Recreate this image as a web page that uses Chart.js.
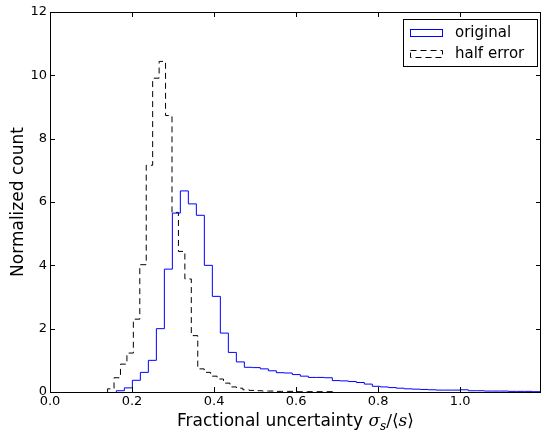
<!DOCTYPE html>
<html>
<head>
<meta charset="utf-8">
<script src="https://cdn.jsdelivr.net/npm/chart.js@4.4.0/dist/chart.umd.min.js"></script>
<style>
html, body { margin: 0; padding: 0; background: #fff; }
#wrap { width: 542px; height: 435px; }
</style>
</head>
<body>
<div id="wrap"><canvas id="myChart"></canvas></div>
<script>
// histogram bins: first left edge, bin width, normalized counts per bin
var origStart = 0.1618, origWidth = 0.0195;
var origCounts = [0.04, 0.13, 0.37, 0.62, 1.0, 2.0, 3.88, 5.65, 6.35, 5.94,
                  5.58, 4.0, 3.02, 1.86, 1.25, 0.95, 0.78, 0.77, 0.73, 0.67,
                  0.61, 0.60, 0.55, 0.50, 0.46, 0.46, 0.45, 0.36, 0.35, 0.33,
                  0.30, 0.25, 0.18, 0.16, 0.14, 0.12, 0.10, 0.09, 0.08, 0.07,
                  0.06, 0.06, 0.06, 0.07, 0.04, 0.04, 0.03, 0.03, 0.03, 0.02,
                  0.02, 0.02, 0.01, 0.01];
var halfStart = 0.1404, halfWidth = 0.0157;
var halfCounts = [0.10, 0.45, 0.88, 1.23, 2.3, 4.02, 7.16, 9.91, 10.44, 8.73,
                  5.67, 4.44, 3.57, 1.78, 0.73, 0.62, 0.50, 0.41, 0.28, 0.16,
                  0.12, 0.07, 0.05, 0.04, 0.03, 0.03, 0.02, 0.02, 0.02, 0.01,
                  0.01, 0.01, 0.01, 0.01, 0.01];
var seriesNames = ["original", "half error"];
var xTicks = [0.0, 0.2, 0.4, 0.6, 0.8, 1.0];
var yTicks = [0, 2, 4, 6, 8, 10, 12];

// outline points of a step histogram (left edge of each bin)
function stepPoints(start, width, counts) {
    var pts = [{x: start, y: 0}];
    for (var i = 0; i < counts.length; i++) {
        pts.push({x: start + i * width, y: counts[i]});
    }
    pts.push({x: start + counts.length * width, y: 0});
    return pts;
}

// frame + inward ticks on all four sides (matplotlib look)
var frameTicks = {
    id: 'frameTicks',
    afterDraw: function(chart) {
        var ctx = chart.ctx, a = chart.chartArea;
        var xs = chart.scales.x, ys = chart.scales.y;
        ctx.save();
        ctx.strokeStyle = '#000';
        ctx.lineWidth = 1;
        ctx.beginPath();
        xs.ticks.forEach(function(t) {
            var px = Math.round(xs.getPixelForValue(t.value)) + 0.5;
            ctx.moveTo(px, a.bottom); ctx.lineTo(px, a.bottom - 5);
            ctx.moveTo(px, a.top); ctx.lineTo(px, a.top + 5);
        });
        ys.ticks.forEach(function(t) {
            var py = Math.round(ys.getPixelForValue(t.value)) + 0.5;
            ctx.moveTo(a.left, py); ctx.lineTo(a.left + 5, py);
            ctx.moveTo(a.right, py); ctx.lineTo(a.right - 5, py);
        });
        ctx.stroke();
        ctx.strokeRect(Math.round(a.left) + 0.5, Math.round(a.top) + 0.5,
                       Math.round(a.right - a.left) - 1, Math.round(a.bottom - a.top));
        ctx.restore();
    }
};

// legend box in the upper right corner
var boxLegend = {
    id: 'boxLegend',
    afterDraw: function(chart) {
        var ctx = chart.ctx;
        ctx.save();
        ctx.strokeStyle = '#000';
        ctx.lineWidth = 1;
        ctx.strokeRect(403.5, 19.5, 134, 47);
        ctx.font = '15px "DejaVu Sans"';
        ctx.fillStyle = '#000';
        ctx.textBaseline = 'middle';
        chart.data.datasets.forEach(function(ds, i) {
            var cy = 33 + i * 21;
            ctx.strokeStyle = ds.borderColor;
            ctx.setLineDash(ds.borderDash || []);
            ctx.strokeRect(410.5, cy - 3.5, 32, 7);
            ctx.setLineDash([]);
            ctx.fillText(ds.label, 455, cy);
        });
        ctx.restore();
    }
};

// x-axis label with math part
var xLabel = {
    id: 'xLabel',
    afterDraw: function(chart) {
        var ctx = chart.ctx, a = chart.chartArea;
        var parts = [
            {t: 'Fractional uncertainty ', f: '17px "DejaVu Sans"', dy: 0},
            {t: '\u03c3', f: 'italic 17px "DejaVu Serif"', dy: 0},
            {t: 's', f: 'italic 12px "DejaVu Serif"', dy: 4},
            {t: '/\u27e8', f: '17px "DejaVu Serif"', dy: 0},
            {t: 's', f: 'italic 17px "DejaVu Serif"', dy: 0},
            {t: '\u27e9', f: '17px "DejaVu Serif"', dy: 0}
        ];
        ctx.save();
        var total = 0;
        parts.forEach(function(p) { ctx.font = p.f; p.w = ctx.measureText(p.t).width; total += p.w; });
        var x = (a.left + a.right) / 2 - total / 2;
        ctx.fillStyle = '#000';
        ctx.textBaseline = 'alphabetic';
        parts.forEach(function(p) {
            ctx.font = p.f;
            ctx.fillText(p.t, x, 426 + p.dy);
            x += p.w;
        });
        ctx.restore();
    }
};

var tickFont = {family: 'DejaVu Sans', size: 13};

var ctx = document.getElementById('myChart');
var myChart = new Chart(ctx, {
    type: 'line',
    data: {
        datasets: [
            {
                label: seriesNames[0],
                data: stepPoints(origStart, origWidth, origCounts),
                borderColor: '#0000ff',
                backgroundColor: '#ffffff',
                borderWidth: 1,
                stepped: 'before',
                fill: false
            },
            {
                label: seriesNames[1],
                data: stepPoints(halfStart, halfWidth, halfCounts),
                borderColor: '#000000',
                backgroundColor: '#ffffff',
                borderWidth: 1,
                borderDash: [6, 4],
                stepped: 'before',
                fill: false
            }
        ]
    },
    options: {
        responsive: true,
        maintainAspectRatio: false,
        animation: false,
        layout: {padding: {top: 12, right: 1, left: 0, bottom: 0}},
        elements: {point: {radius: 0, hoverRadius: 0}},
        plugins: {
            legend: {display: false},
            tooltip: {enabled: false}
        },
        scales: {
            x: {
                type: 'linear',
                min: 0,
                max: 1.197,
                grid: {display: false, drawTicks: false},
                border: {display: false},
                afterBuildTicks: function(s) {
                    s.ticks = xTicks.map(function(v) { return {value: v}; });
                },
                ticks: {
                    color: '#000',
                    font: tickFont,
                    padding: 2,
                    maxRotation: 0,
                    autoSkip: false,
                    callback: function(v) { return Number(v).toFixed(1); }
                },
                afterFit: function(s) { s.height = 43; }
            },
            y: {
                min: 0,
                max: 12,
                grid: {display: false, drawTicks: false},
                border: {display: false},
                afterBuildTicks: function(s) {
                    s.ticks = yTicks.map(function(v) { return {value: v}; });
                },
                ticks: {
                    color: '#000',
                    font: tickFont,
                    padding: 3,
                    autoSkip: false
                },
                title: {
                    display: true,
                    text: 'Normalized count',
                    color: '#000',
                    font: {family: 'DejaVu Sans', size: 17},
                    padding: {top: 8, bottom: 0}
                },
                afterFit: function(s) { s.width = 50; }
            }
        }
    },
    plugins: [frameTicks, boxLegend, xLabel]
});
</script>
</body>
</html>
